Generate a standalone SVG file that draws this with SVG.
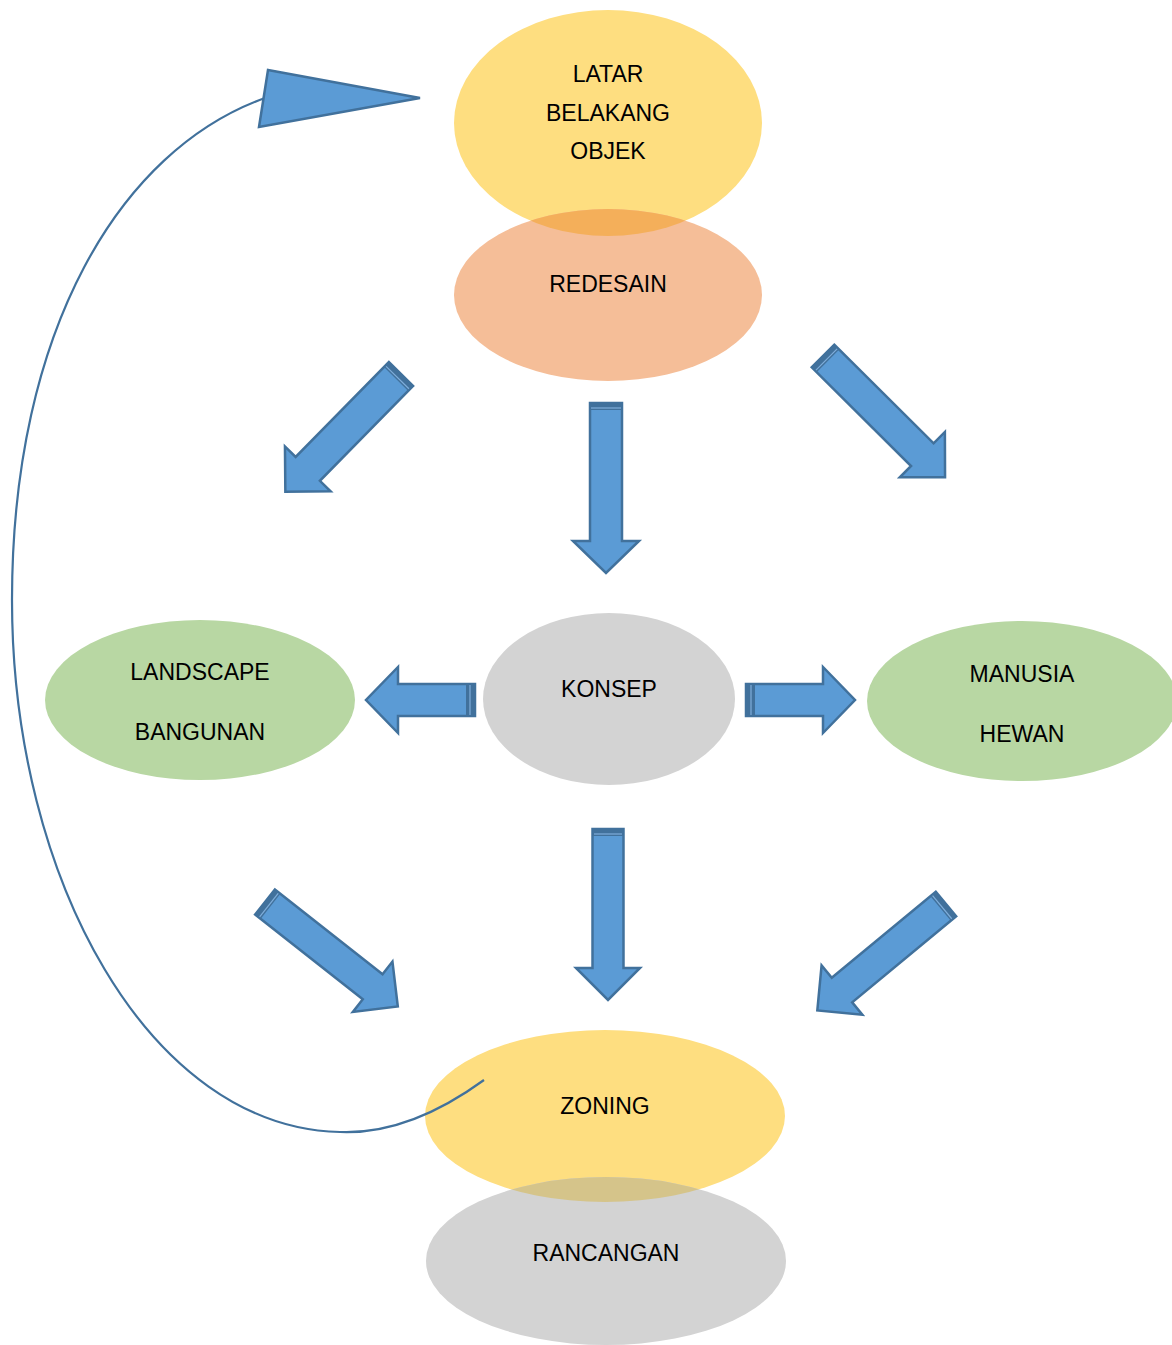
<svg xmlns="http://www.w3.org/2000/svg" width="1172" height="1345" viewBox="0 0 1172 1345">
<style>
text{font-family:"Liberation Sans",Arial,sans-serif;font-size:23px;fill:#000;text-anchor:middle}
.blk{fill:#5B9BD5;stroke:#41719C;stroke-width:2.5;stroke-linejoin:miter}
.band{fill:#41719C}
.bandl{stroke:#7FAEDB;stroke-width:1.2}
.curve{fill:none;stroke:#41719C;stroke-width:2.2}
</style>
<defs>
<clipPath id="cLatar"><ellipse cx="608" cy="123" rx="154" ry="113"/></clipPath>
<clipPath id="cZoning"><ellipse cx="605" cy="1116" rx="180" ry="86"/></clipPath>
</defs>
<rect width="1172" height="1345" fill="#fff"/>

<g id="latar">
<ellipse cx="608" cy="123" rx="154" ry="113" fill="#FEDE80"/>
<text x="608" y="82">LATAR</text>
<text x="608" y="121">BELAKANG</text>
<text x="608" y="159">OBJEK</text>
</g>
<g id="redesain">
<ellipse cx="608" cy="295" rx="154" ry="86" fill="#F5BE98"/>
<ellipse cx="608" cy="295" rx="154" ry="86" fill="#F4AF5A" clip-path="url(#cLatar)"/>
<text x="608" y="292">REDESAIN</text>
</g>
<g id="konsep">
<ellipse cx="609" cy="699" rx="126" ry="86" fill="#D3D3D3"/>
<text x="609" y="697">KONSEP</text>
</g>
<g id="landscape">
<ellipse cx="200" cy="700" rx="155" ry="80" fill="#B8D7A3"/>
<text x="200" y="680">LANDSCAPE</text>
<text x="200" y="740">BANGUNAN</text>
</g>
<g id="manusia">
<ellipse cx="1022" cy="701" rx="155" ry="80" fill="#B8D7A3"/>
<text x="1022" y="682">MANUSIA</text>
<text x="1022" y="742">HEWAN</text>
</g>
<g id="zoning">
<ellipse cx="605" cy="1116" rx="180" ry="86" fill="#FEDE80"/>
<text x="605" y="1114">ZONING</text>
</g>
<g id="rancangan">
<ellipse cx="606" cy="1261" rx="180" ry="84" fill="#D3D3D3"/>
<ellipse cx="606" cy="1261" rx="180" ry="84" fill="#D5C48A" clip-path="url(#cZoning)"/>
<text x="606" y="1261">RANCANGAN</text>
</g>

<g id="connectors">
<!-- block arrow template: tail at 0, tip at L along +x -->
<g transform="translate(401,374) rotate(134.5)">
<polygon class="blk" points="0,-17 133,-17 133,-32 165,0 133,32 133,17 0,17"/>
<rect class="band" x="0" y="-17" width="7" height="34"/><line class="bandl" x1="5" y1="-16" x2="5" y2="16"/>
</g>
<g transform="translate(606,403) rotate(90)">
<polygon class="blk" points="0,-16 138,-16 138,-33 170,0 138,33 138,16 0,16"/>
<rect class="band" x="0" y="-16" width="7" height="32"/><line class="bandl" x1="5" y1="-15" x2="5" y2="15"/>
</g>
<g transform="translate(823,356) rotate(44.8)">
<polygon class="blk" points="0,-16 140,-16 140,-32 172,0 140,32 140,16 0,16"/>
<rect class="band" x="0" y="-16" width="7" height="32"/><line class="bandl" x1="5" y1="-15" x2="5" y2="15"/>
</g>
<g transform="translate(475,700) rotate(180)">
<polygon class="blk" points="0,-16 77,-16 77,-33 109,0 77,33 77,16 0,16"/>
<rect class="band" x="0" y="-16" width="9" height="32"/><line class="bandl" x1="5" y1="-15" x2="5" y2="15"/>
</g>
<g transform="translate(746,700)">
<polygon class="blk" points="0,-16 77,-16 77,-33 109,0 77,33 77,16 0,16"/>
<rect class="band" x="0" y="-16" width="9" height="32"/><line class="bandl" x1="5" y1="-15" x2="5" y2="15"/>
</g>
<g transform="translate(265,902) rotate(38.2)">
<polygon class="blk" points="0,-16 137,-16 137,-32 169,0 137,32 137,16 0,16"/>
<rect class="band" x="0" y="-16" width="7" height="32"/><line class="bandl" x1="5" y1="-15" x2="5" y2="15"/>
</g>
<g transform="translate(946,904) rotate(140.4)">
<polygon class="blk" points="0,-16 135,-16 135,-32 167,0 135,32 135,16 0,16"/>
<rect class="band" x="0" y="-16" width="7" height="32"/><line class="bandl" x1="5" y1="-15" x2="5" y2="15"/>
</g>
<g transform="translate(608,829) rotate(90)">
<polygon class="blk" points="0,-15.5 139,-15.5 139,-32 171,0 139,32 139,15.5 0,15.5"/>
<rect class="band" x="0" y="-15.5" width="7" height="31"/><line class="bandl" x1="5" y1="-14" x2="5" y2="14"/>
</g>
<path class="curve" d="M484,1080 C440,1112 390,1134 340,1132 C150,1128 12,880 12,600 C12,330 120,150 265,98"/>
<polygon class="blk" points="268,70 420,98 259,127"/>
</g>
</svg>
